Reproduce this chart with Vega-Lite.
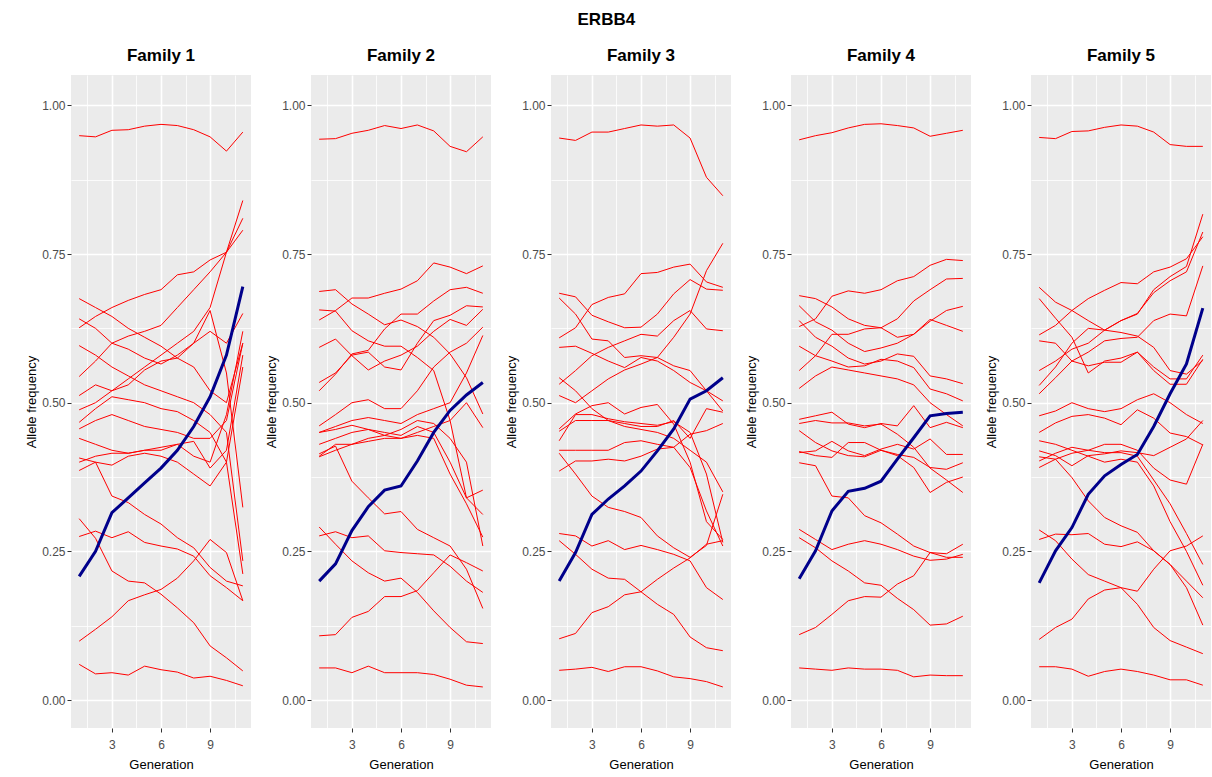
{
"$schema":"https://vega.github.io/schema/vega-lite/v6.json",
"background":"white",
"padding":{"left":25,"top":11,"right":0,"bottom":0},
"title":{"text":"ERBB4","fontSize":17,"anchor":"middle","frame":"bounds","offset":18,"dx":-12},
"spacing":60,
"bounds":"flush",
"datasets":{
"f1":[
{"s":0,"g":1,"v":0.208},{"s":0,"g":2,"v":0.25},{"s":0,"g":3,"v":0.315},{"s":0,"g":4,"v":0.34},{"s":0,"g":5,"v":0.365},{"s":0,"g":6,"v":0.39},{"s":0,"g":7,"v":0.42},{"s":0,"g":8,"v":0.46},{"s":0,"g":9,"v":0.51},{"s":0,"g":10,"v":0.58},{"s":0,"g":11,"v":0.695},
{"s":1,"g":1,"v":0.949},{"s":1,"g":2,"v":0.947},{"s":1,"g":3,"v":0.958},{"s":1,"g":4,"v":0.959},{"s":1,"g":5,"v":0.965},{"s":1,"g":6,"v":0.968},{"s":1,"g":7,"v":0.966},{"s":1,"g":8,"v":0.959},{"s":1,"g":9,"v":0.947},{"s":1,"g":10,"v":0.923},{"s":1,"g":11,"v":0.955},
{"s":2,"g":1,"v":0.626},{"s":2,"g":2,"v":0.645},{"s":2,"g":3,"v":0.66},{"s":2,"g":4,"v":0.672},{"s":2,"g":5,"v":0.682},{"s":2,"g":6,"v":0.69},{"s":2,"g":7,"v":0.715},{"s":2,"g":8,"v":0.72},{"s":2,"g":9,"v":0.74},{"s":2,"g":10,"v":0.753},{"s":2,"g":11,"v":0.84},
{"s":3,"g":1,"v":0.544},{"s":3,"g":2,"v":0.57},{"s":3,"g":3,"v":0.6},{"s":3,"g":4,"v":0.612},{"s":3,"g":5,"v":0.62},{"s":3,"g":6,"v":0.63},{"s":3,"g":7,"v":0.66},{"s":3,"g":8,"v":0.69},{"s":3,"g":9,"v":0.72},{"s":3,"g":10,"v":0.753},{"s":3,"g":11,"v":0.81},
{"s":4,"g":1,"v":0.488},{"s":4,"g":2,"v":0.5},{"s":4,"g":3,"v":0.52},{"s":4,"g":4,"v":0.54},{"s":4,"g":5,"v":0.56},{"s":4,"g":6,"v":0.58},{"s":4,"g":7,"v":0.6},{"s":4,"g":8,"v":0.62},{"s":4,"g":9,"v":0.66},{"s":4,"g":10,"v":0.753},{"s":4,"g":11,"v":0.79},
{"s":5,"g":1,"v":0.675},{"s":5,"g":2,"v":0.66},{"s":5,"g":3,"v":0.645},{"s":5,"g":4,"v":0.625},{"s":5,"g":5,"v":0.61},{"s":5,"g":6,"v":0.595},{"s":5,"g":7,"v":0.575},{"s":5,"g":8,"v":0.56},{"s":5,"g":9,"v":0.52},{"s":5,"g":10,"v":0.5},{"s":5,"g":11,"v":0.6},
{"s":6,"g":1,"v":0.641},{"s":6,"g":2,"v":0.625},{"s":6,"g":3,"v":0.6},{"s":6,"g":4,"v":0.59},{"s":6,"g":5,"v":0.575},{"s":6,"g":6,"v":0.565},{"s":6,"g":7,"v":0.58},{"s":6,"g":8,"v":0.6},{"s":6,"g":9,"v":0.655},{"s":6,"g":10,"v":0.55},{"s":6,"g":11,"v":0.324},
{"s":7,"g":1,"v":0.596},{"s":7,"g":2,"v":0.58},{"s":7,"g":3,"v":0.56},{"s":7,"g":4,"v":0.545},{"s":7,"g":5,"v":0.53},{"s":7,"g":6,"v":0.52},{"s":7,"g":7,"v":0.51},{"s":7,"g":8,"v":0.5},{"s":7,"g":9,"v":0.48},{"s":7,"g":10,"v":0.45},{"s":7,"g":11,"v":0.234},
{"s":8,"g":1,"v":0.512},{"s":8,"g":2,"v":0.53},{"s":8,"g":3,"v":0.52},{"s":8,"g":4,"v":0.53},{"s":8,"g":5,"v":0.555},{"s":8,"g":6,"v":0.57},{"s":8,"g":7,"v":0.575},{"s":8,"g":8,"v":0.6},{"s":8,"g":9,"v":0.62},{"s":8,"g":10,"v":0.6},{"s":8,"g":11,"v":0.65},
{"s":9,"g":1,"v":0.467},{"s":9,"g":2,"v":0.49},{"s":9,"g":3,"v":0.51},{"s":9,"g":4,"v":0.505},{"s":9,"g":5,"v":0.5},{"s":9,"g":6,"v":0.49},{"s":9,"g":7,"v":0.485},{"s":9,"g":8,"v":0.47},{"s":9,"g":9,"v":0.45},{"s":9,"g":10,"v":0.4},{"s":9,"g":11,"v":0.212},
{"s":10,"g":1,"v":0.456},{"s":10,"g":2,"v":0.47},{"s":10,"g":3,"v":0.48},{"s":10,"g":4,"v":0.47},{"s":10,"g":5,"v":0.46},{"s":10,"g":6,"v":0.455},{"s":10,"g":7,"v":0.45},{"s":10,"g":8,"v":0.44},{"s":10,"g":9,"v":0.44},{"s":10,"g":10,"v":0.47},{"s":10,"g":11,"v":0.6},
{"s":11,"g":1,"v":0.44},{"s":11,"g":2,"v":0.43},{"s":11,"g":3,"v":0.42},{"s":11,"g":4,"v":0.415},{"s":11,"g":5,"v":0.42},{"s":11,"g":6,"v":0.425},{"s":11,"g":7,"v":0.43},{"s":11,"g":8,"v":0.435},{"s":11,"g":9,"v":0.39},{"s":11,"g":10,"v":0.42},{"s":11,"g":11,"v":0.58},
{"s":12,"g":1,"v":0.407},{"s":12,"g":2,"v":0.4},{"s":12,"g":3,"v":0.343},{"s":12,"g":4,"v":0.332},{"s":12,"g":5,"v":0.312},{"s":12,"g":6,"v":0.296},{"s":12,"g":7,"v":0.273},{"s":12,"g":8,"v":0.256},{"s":12,"g":9,"v":0.223},{"s":12,"g":10,"v":0.2},{"s":12,"g":11,"v":0.192},
{"s":13,"g":1,"v":0.386},{"s":13,"g":2,"v":0.4},{"s":13,"g":3,"v":0.395},{"s":13,"g":4,"v":0.41},{"s":13,"g":5,"v":0.415},{"s":13,"g":6,"v":0.41},{"s":13,"g":7,"v":0.4},{"s":13,"g":8,"v":0.38},{"s":13,"g":9,"v":0.36},{"s":13,"g":10,"v":0.4},{"s":13,"g":11,"v":0.56},
{"s":14,"g":1,"v":0.4},{"s":14,"g":2,"v":0.41},{"s":14,"g":3,"v":0.415},{"s":14,"g":4,"v":0.415},{"s":14,"g":5,"v":0.42},{"s":14,"g":6,"v":0.42},{"s":14,"g":7,"v":0.43},{"s":14,"g":8,"v":0.41},{"s":14,"g":9,"v":0.4},{"s":14,"g":10,"v":0.48},{"s":14,"g":11,"v":0.62},
{"s":15,"g":1,"v":0.305},{"s":15,"g":2,"v":0.272},{"s":15,"g":3,"v":0.217},{"s":15,"g":4,"v":0.2},{"s":15,"g":5,"v":0.197},{"s":15,"g":6,"v":0.178},{"s":15,"g":7,"v":0.155},{"s":15,"g":8,"v":0.13},{"s":15,"g":9,"v":0.091},{"s":15,"g":10,"v":0.071},{"s":15,"g":11,"v":0.049},
{"s":16,"g":1,"v":0.275},{"s":16,"g":2,"v":0.284},{"s":16,"g":3,"v":0.273},{"s":16,"g":4,"v":0.283},{"s":16,"g":5,"v":0.265},{"s":16,"g":6,"v":0.259},{"s":16,"g":7,"v":0.254},{"s":16,"g":8,"v":0.242},{"s":16,"g":9,"v":0.209},{"s":16,"g":10,"v":0.189},{"s":16,"g":11,"v":0.167},
{"s":17,"g":1,"v":0.099},{"s":17,"g":2,"v":0.119},{"s":17,"g":3,"v":0.14},{"s":17,"g":4,"v":0.167},{"s":17,"g":5,"v":0.177},{"s":17,"g":6,"v":0.186},{"s":17,"g":7,"v":0.205},{"s":17,"g":8,"v":0.234},{"s":17,"g":9,"v":0.27},{"s":17,"g":10,"v":0.248},{"s":17,"g":11,"v":0.167},
{"s":18,"g":1,"v":0.06},{"s":18,"g":2,"v":0.044},{"s":18,"g":3,"v":0.046},{"s":18,"g":4,"v":0.042},{"s":18,"g":5,"v":0.057},{"s":18,"g":6,"v":0.051},{"s":18,"g":7,"v":0.047},{"s":18,"g":8,"v":0.037},{"s":18,"g":9,"v":0.04},{"s":18,"g":10,"v":0.033},{"s":18,"g":11,"v":0.024}
],
"f2":[
{"s":0,"g":1,"v":0.2},{"s":0,"g":2,"v":0.229},{"s":0,"g":3,"v":0.285},{"s":0,"g":4,"v":0.325},{"s":0,"g":5,"v":0.353},{"s":0,"g":6,"v":0.36},{"s":0,"g":7,"v":0.402},{"s":0,"g":8,"v":0.45},{"s":0,"g":9,"v":0.487},{"s":0,"g":10,"v":0.513},{"s":0,"g":11,"v":0.534},
{"s":1,"g":1,"v":0.943},{"s":1,"g":2,"v":0.944},{"s":1,"g":3,"v":0.953},{"s":1,"g":4,"v":0.958},{"s":1,"g":5,"v":0.966},{"s":1,"g":6,"v":0.961},{"s":1,"g":7,"v":0.967},{"s":1,"g":8,"v":0.957},{"s":1,"g":9,"v":0.931},{"s":1,"g":10,"v":0.922},{"s":1,"g":11,"v":0.947},
{"s":2,"g":1,"v":0.639},{"s":2,"g":2,"v":0.655},{"s":2,"g":3,"v":0.676},{"s":2,"g":4,"v":0.676},{"s":2,"g":5,"v":0.684},{"s":2,"g":6,"v":0.691},{"s":2,"g":7,"v":0.705},{"s":2,"g":8,"v":0.735},{"s":2,"g":9,"v":0.728},{"s":2,"g":10,"v":0.717},{"s":2,"g":11,"v":0.73},
{"s":3,"g":1,"v":0.687},{"s":3,"g":2,"v":0.69},{"s":3,"g":3,"v":0.666},{"s":3,"g":4,"v":0.649},{"s":3,"g":5,"v":0.631},{"s":3,"g":6,"v":0.639},{"s":3,"g":7,"v":0.628},{"s":3,"g":8,"v":0.61},{"s":3,"g":9,"v":0.582},{"s":3,"g":10,"v":0.542},{"s":3,"g":11,"v":0.481},
{"s":4,"g":1,"v":0.656},{"s":4,"g":2,"v":0.654},{"s":4,"g":3,"v":0.621},{"s":4,"g":4,"v":0.604},{"s":4,"g":5,"v":0.595},{"s":4,"g":6,"v":0.595},{"s":4,"g":7,"v":0.576},{"s":4,"g":8,"v":0.554},{"s":4,"g":9,"v":0.47},{"s":4,"g":10,"v":0.34},{"s":4,"g":11,"v":0.353},
{"s":5,"g":1,"v":0.52},{"s":5,"g":2,"v":0.548},{"s":5,"g":3,"v":0.582},{"s":5,"g":4,"v":0.588},{"s":5,"g":5,"v":0.624},{"s":5,"g":6,"v":0.649},{"s":5,"g":7,"v":0.649},{"s":5,"g":8,"v":0.671},{"s":5,"g":9,"v":0.69},{"s":5,"g":10,"v":0.694},{"s":5,"g":11,"v":0.684},
{"s":6,"g":1,"v":0.534},{"s":6,"g":2,"v":0.55},{"s":6,"g":3,"v":0.58},{"s":6,"g":4,"v":0.585},{"s":6,"g":5,"v":0.56},{"s":6,"g":6,"v":0.555},{"s":6,"g":7,"v":0.6},{"s":6,"g":8,"v":0.638},{"s":6,"g":9,"v":0.647},{"s":6,"g":10,"v":0.663},{"s":6,"g":11,"v":0.661},
{"s":7,"g":1,"v":0.593},{"s":7,"g":2,"v":0.607},{"s":7,"g":3,"v":0.579},{"s":7,"g":4,"v":0.555},{"s":7,"g":5,"v":0.57},{"s":7,"g":6,"v":0.58},{"s":7,"g":7,"v":0.595},{"s":7,"g":8,"v":0.62},{"s":7,"g":9,"v":0.64},{"s":7,"g":10,"v":0.63},{"s":7,"g":11,"v":0.657},
{"s":8,"g":1,"v":0.461},{"s":8,"g":2,"v":0.48},{"s":8,"g":3,"v":0.5},{"s":8,"g":4,"v":0.505},{"s":8,"g":5,"v":0.49},{"s":8,"g":6,"v":0.49},{"s":8,"g":7,"v":0.52},{"s":8,"g":8,"v":0.56},{"s":8,"g":9,"v":0.585},{"s":8,"g":10,"v":0.6},{"s":8,"g":11,"v":0.627},
{"s":9,"g":1,"v":0.45},{"s":9,"g":2,"v":0.46},{"s":9,"g":3,"v":0.47},{"s":9,"g":4,"v":0.475},{"s":9,"g":5,"v":0.47},{"s":9,"g":6,"v":0.465},{"s":9,"g":7,"v":0.48},{"s":9,"g":8,"v":0.49},{"s":9,"g":9,"v":0.5},{"s":9,"g":10,"v":0.55},{"s":9,"g":11,"v":0.613},
{"s":10,"g":1,"v":0.43},{"s":10,"g":2,"v":0.44},{"s":10,"g":3,"v":0.45},{"s":10,"g":4,"v":0.455},{"s":10,"g":5,"v":0.45},{"s":10,"g":6,"v":0.445},{"s":10,"g":7,"v":0.46},{"s":10,"g":8,"v":0.45},{"s":10,"g":9,"v":0.4},{"s":10,"g":10,"v":0.34},{"s":10,"g":11,"v":0.312},
{"s":11,"g":1,"v":0.409},{"s":11,"g":2,"v":0.42},{"s":11,"g":3,"v":0.43},{"s":11,"g":4,"v":0.435},{"s":11,"g":5,"v":0.44},{"s":11,"g":6,"v":0.44},{"s":11,"g":7,"v":0.445},{"s":11,"g":8,"v":0.44},{"s":11,"g":9,"v":0.38},{"s":11,"g":10,"v":0.33},{"s":11,"g":11,"v":0.274},
{"s":12,"g":1,"v":0.45},{"s":12,"g":2,"v":0.455},{"s":12,"g":3,"v":0.462},{"s":12,"g":4,"v":0.455},{"s":12,"g":5,"v":0.445},{"s":12,"g":6,"v":0.455},{"s":12,"g":7,"v":0.47},{"s":12,"g":8,"v":0.465},{"s":12,"g":9,"v":0.44},{"s":12,"g":10,"v":0.4},{"s":12,"g":11,"v":0.259},
{"s":13,"g":1,"v":0.41},{"s":13,"g":2,"v":0.43},{"s":13,"g":3,"v":0.43},{"s":13,"g":4,"v":0.44},{"s":13,"g":5,"v":0.445},{"s":13,"g":6,"v":0.44},{"s":13,"g":7,"v":0.45},{"s":13,"g":8,"v":0.46},{"s":13,"g":9,"v":0.47},{"s":13,"g":10,"v":0.5},{"s":13,"g":11,"v":0.458},
{"s":14,"g":1,"v":0.414},{"s":14,"g":2,"v":0.427},{"s":14,"g":3,"v":0.368},{"s":14,"g":4,"v":0.34},{"s":14,"g":5,"v":0.313},{"s":14,"g":6,"v":0.317},{"s":14,"g":7,"v":0.287},{"s":14,"g":8,"v":0.273},{"s":14,"g":9,"v":0.259},{"s":14,"g":10,"v":0.22},{"s":14,"g":11,"v":0.154},
{"s":15,"g":1,"v":0.291},{"s":15,"g":2,"v":0.262},{"s":15,"g":3,"v":0.234},{"s":15,"g":4,"v":0.214},{"s":15,"g":5,"v":0.2},{"s":15,"g":6,"v":0.205},{"s":15,"g":7,"v":0.181},{"s":15,"g":8,"v":0.15},{"s":15,"g":9,"v":0.122},{"s":15,"g":10,"v":0.098},{"s":15,"g":11,"v":0.095},
{"s":16,"g":1,"v":0.276},{"s":16,"g":2,"v":0.283},{"s":16,"g":3,"v":0.273},{"s":16,"g":4,"v":0.276},{"s":16,"g":5,"v":0.251},{"s":16,"g":6,"v":0.248},{"s":16,"g":7,"v":0.246},{"s":16,"g":8,"v":0.244},{"s":16,"g":9,"v":0.225},{"s":16,"g":10,"v":0.2},{"s":16,"g":11,"v":0.181},
{"s":17,"g":1,"v":0.108},{"s":17,"g":2,"v":0.11},{"s":17,"g":3,"v":0.139},{"s":17,"g":4,"v":0.149},{"s":17,"g":5,"v":0.174},{"s":17,"g":6,"v":0.174},{"s":17,"g":7,"v":0.184},{"s":17,"g":8,"v":0.214},{"s":17,"g":9,"v":0.244},{"s":17,"g":10,"v":0.231},{"s":17,"g":11,"v":0.217},
{"s":18,"g":1,"v":0.054},{"s":18,"g":2,"v":0.054},{"s":18,"g":3,"v":0.046},{"s":18,"g":4,"v":0.057},{"s":18,"g":5,"v":0.046},{"s":18,"g":6,"v":0.046},{"s":18,"g":7,"v":0.046},{"s":18,"g":8,"v":0.043},{"s":18,"g":9,"v":0.035},{"s":18,"g":10,"v":0.025},{"s":18,"g":11,"v":0.022}
],
"f3":[
{"s":0,"g":1,"v":0.2},{"s":0,"g":2,"v":0.248},{"s":0,"g":3,"v":0.312},{"s":0,"g":4,"v":0.338},{"s":0,"g":5,"v":0.36},{"s":0,"g":6,"v":0.385},{"s":0,"g":7,"v":0.419},{"s":0,"g":8,"v":0.456},{"s":0,"g":9,"v":0.506},{"s":0,"g":10,"v":0.52},{"s":0,"g":11,"v":0.542},
{"s":1,"g":1,"v":0.945},{"s":1,"g":2,"v":0.941},{"s":1,"g":3,"v":0.955},{"s":1,"g":4,"v":0.955},{"s":1,"g":5,"v":0.961},{"s":1,"g":6,"v":0.967},{"s":1,"g":7,"v":0.965},{"s":1,"g":8,"v":0.967},{"s":1,"g":9,"v":0.945},{"s":1,"g":10,"v":0.879},{"s":1,"g":11,"v":0.848},
{"s":2,"g":1,"v":0.609},{"s":2,"g":2,"v":0.626},{"s":2,"g":3,"v":0.665},{"s":2,"g":4,"v":0.677},{"s":2,"g":5,"v":0.683},{"s":2,"g":6,"v":0.717},{"s":2,"g":7,"v":0.719},{"s":2,"g":8,"v":0.728},{"s":2,"g":9,"v":0.733},{"s":2,"g":10,"v":0.703},{"s":2,"g":11,"v":0.694},
{"s":3,"g":1,"v":0.684},{"s":3,"g":2,"v":0.678},{"s":3,"g":3,"v":0.647},{"s":3,"g":4,"v":0.636},{"s":3,"g":5,"v":0.626},{"s":3,"g":6,"v":0.627},{"s":3,"g":7,"v":0.649},{"s":3,"g":8,"v":0.683},{"s":3,"g":9,"v":0.707},{"s":3,"g":10,"v":0.691},{"s":3,"g":11,"v":0.689},
{"s":4,"g":1,"v":0.676},{"s":4,"g":2,"v":0.649},{"s":4,"g":3,"v":0.607},{"s":4,"g":4,"v":0.604},{"s":4,"g":5,"v":0.576},{"s":4,"g":6,"v":0.579},{"s":4,"g":7,"v":0.576},{"s":4,"g":8,"v":0.562},{"s":4,"g":9,"v":0.554},{"s":4,"g":10,"v":0.52},{"s":4,"g":11,"v":0.486},
{"s":5,"g":1,"v":0.593},{"s":5,"g":2,"v":0.595},{"s":5,"g":3,"v":0.583},{"s":5,"g":4,"v":0.57},{"s":5,"g":5,"v":0.559},{"s":5,"g":6,"v":0.576},{"s":5,"g":7,"v":0.57},{"s":5,"g":8,"v":0.554},{"s":5,"g":9,"v":0.534},{"s":5,"g":10,"v":0.52},{"s":5,"g":11,"v":0.503},
{"s":6,"g":1,"v":0.531},{"s":6,"g":2,"v":0.554},{"s":6,"g":3,"v":0.579},{"s":6,"g":4,"v":0.593},{"s":6,"g":5,"v":0.604},{"s":6,"g":6,"v":0.615},{"s":6,"g":7,"v":0.612},{"s":6,"g":8,"v":0.638},{"s":6,"g":9,"v":0.655},{"s":6,"g":10,"v":0.624},{"s":6,"g":11,"v":0.621},
{"s":7,"g":1,"v":0.512},{"s":7,"g":2,"v":0.5},{"s":7,"g":3,"v":0.52},{"s":7,"g":4,"v":0.54},{"s":7,"g":5,"v":0.555},{"s":7,"g":6,"v":0.565},{"s":7,"g":7,"v":0.576},{"s":7,"g":8,"v":0.61},{"s":7,"g":9,"v":0.649},{"s":7,"g":10,"v":0.722},{"s":7,"g":11,"v":0.768},
{"s":8,"g":1,"v":0.542},{"s":8,"g":2,"v":0.52},{"s":8,"g":3,"v":0.49},{"s":8,"g":4,"v":0.47},{"s":8,"g":5,"v":0.46},{"s":8,"g":6,"v":0.455},{"s":8,"g":7,"v":0.45},{"s":8,"g":8,"v":0.44},{"s":8,"g":9,"v":0.42},{"s":8,"g":10,"v":0.4},{"s":8,"g":11,"v":0.35},
{"s":9,"g":1,"v":0.456},{"s":9,"g":2,"v":0.481},{"s":9,"g":3,"v":0.495},{"s":9,"g":4,"v":0.5},{"s":9,"g":5,"v":0.481},{"s":9,"g":6,"v":0.492},{"s":9,"g":7,"v":0.497},{"s":9,"g":8,"v":0.464},{"s":9,"g":9,"v":0.4},{"s":9,"g":10,"v":0.3},{"s":9,"g":11,"v":0.27},
{"s":10,"g":1,"v":0.436},{"s":10,"g":2,"v":0.48},{"s":10,"g":3,"v":0.48},{"s":10,"g":4,"v":0.473},{"s":10,"g":5,"v":0.468},{"s":10,"g":6,"v":0.465},{"s":10,"g":7,"v":0.462},{"s":10,"g":8,"v":0.468},{"s":10,"g":9,"v":0.45},{"s":10,"g":10,"v":0.38},{"s":10,"g":11,"v":0.265},
{"s":11,"g":1,"v":0.42},{"s":11,"g":2,"v":0.42},{"s":11,"g":3,"v":0.42},{"s":11,"g":4,"v":0.42},{"s":11,"g":5,"v":0.433},{"s":11,"g":6,"v":0.436},{"s":11,"g":7,"v":0.43},{"s":11,"g":8,"v":0.425},{"s":11,"g":9,"v":0.391},{"s":11,"g":10,"v":0.318},{"s":11,"g":11,"v":0.259},
{"s":12,"g":1,"v":0.385},{"s":12,"g":2,"v":0.402},{"s":12,"g":3,"v":0.402},{"s":12,"g":4,"v":0.405},{"s":12,"g":5,"v":0.402},{"s":12,"g":6,"v":0.41},{"s":12,"g":7,"v":0.422},{"s":12,"g":8,"v":0.425},{"s":12,"g":9,"v":0.447},{"s":12,"g":10,"v":0.453},{"s":12,"g":11,"v":0.465},
{"s":13,"g":1,"v":0.415},{"s":13,"g":2,"v":0.38},{"s":13,"g":3,"v":0.343},{"s":13,"g":4,"v":0.324},{"s":13,"g":5,"v":0.317},{"s":13,"g":6,"v":0.307},{"s":13,"g":7,"v":0.276},{"s":13,"g":8,"v":0.256},{"s":13,"g":9,"v":0.24},{"s":13,"g":10,"v":0.26},{"s":13,"g":11,"v":0.346},
{"s":14,"g":1,"v":0.28},{"s":14,"g":2,"v":0.276},{"s":14,"g":3,"v":0.259},{"s":14,"g":4,"v":0.268},{"s":14,"g":5,"v":0.253},{"s":14,"g":6,"v":0.26},{"s":14,"g":7,"v":0.253},{"s":14,"g":8,"v":0.245},{"s":14,"g":9,"v":0.234},{"s":14,"g":10,"v":0.189},{"s":14,"g":11,"v":0.169},
{"s":15,"g":1,"v":0.268},{"s":15,"g":2,"v":0.245},{"s":15,"g":3,"v":0.22},{"s":15,"g":4,"v":0.205},{"s":15,"g":5,"v":0.203},{"s":15,"g":6,"v":0.182},{"s":15,"g":7,"v":0.161},{"s":15,"g":8,"v":0.144},{"s":15,"g":9,"v":0.106},{"s":15,"g":10,"v":0.088},{"s":15,"g":11,"v":0.083},
{"s":16,"g":1,"v":0.103},{"s":16,"g":2,"v":0.112},{"s":16,"g":3,"v":0.147},{"s":16,"g":4,"v":0.157},{"s":16,"g":5,"v":0.177},{"s":16,"g":6,"v":0.182},{"s":16,"g":7,"v":0.203},{"s":16,"g":8,"v":0.222},{"s":16,"g":9,"v":0.239},{"s":16,"g":10,"v":0.262},{"s":16,"g":11,"v":0.268},
{"s":17,"g":1,"v":0.05},{"s":17,"g":2,"v":0.052},{"s":17,"g":3,"v":0.055},{"s":17,"g":4,"v":0.048},{"s":17,"g":5,"v":0.056},{"s":17,"g":6,"v":0.056},{"s":17,"g":7,"v":0.049},{"s":17,"g":8,"v":0.039},{"s":17,"g":9,"v":0.036},{"s":17,"g":10,"v":0.031},{"s":17,"g":11,"v":0.022},
{"s":18,"g":1,"v":0.452},{"s":18,"g":2,"v":0.47},{"s":18,"g":3,"v":0.47},{"s":18,"g":4,"v":0.47},{"s":18,"g":5,"v":0.465},{"s":18,"g":6,"v":0.46},{"s":18,"g":7,"v":0.46},{"s":18,"g":8,"v":0.47},{"s":18,"g":9,"v":0.44},{"s":18,"g":10,"v":0.49},{"s":18,"g":11,"v":0.484}
],
"f4":[
{"s":0,"g":1,"v":0.204},{"s":0,"g":2,"v":0.251},{"s":0,"g":3,"v":0.318},{"s":0,"g":4,"v":0.351},{"s":0,"g":5,"v":0.356},{"s":0,"g":6,"v":0.368},{"s":0,"g":7,"v":0.405},{"s":0,"g":8,"v":0.441},{"s":0,"g":9,"v":0.478},{"s":0,"g":10,"v":0.482},{"s":0,"g":11,"v":0.484},
{"s":1,"g":1,"v":0.942},{"s":1,"g":2,"v":0.949},{"s":1,"g":3,"v":0.954},{"s":1,"g":4,"v":0.962},{"s":1,"g":5,"v":0.968},{"s":1,"g":6,"v":0.969},{"s":1,"g":7,"v":0.966},{"s":1,"g":8,"v":0.962},{"s":1,"g":9,"v":0.948},{"s":1,"g":10,"v":0.953},{"s":1,"g":11,"v":0.958},
{"s":2,"g":1,"v":0.628},{"s":2,"g":2,"v":0.641},{"s":2,"g":3,"v":0.679},{"s":2,"g":4,"v":0.688},{"s":2,"g":5,"v":0.684},{"s":2,"g":6,"v":0.69},{"s":2,"g":7,"v":0.705},{"s":2,"g":8,"v":0.712},{"s":2,"g":9,"v":0.731},{"s":2,"g":10,"v":0.741},{"s":2,"g":11,"v":0.739},
{"s":3,"g":1,"v":0.68},{"s":3,"g":2,"v":0.675},{"s":3,"g":3,"v":0.661},{"s":3,"g":4,"v":0.641},{"s":3,"g":5,"v":0.63},{"s":3,"g":6,"v":0.626},{"s":3,"g":7,"v":0.641},{"s":3,"g":8,"v":0.671},{"s":3,"g":9,"v":0.69},{"s":3,"g":10,"v":0.708},{"s":3,"g":11,"v":0.709},
{"s":4,"g":1,"v":0.554},{"s":4,"g":2,"v":0.579},{"s":4,"g":3,"v":0.615},{"s":4,"g":4,"v":0.615},{"s":4,"g":5,"v":0.624},{"s":4,"g":6,"v":0.626},{"s":4,"g":7,"v":0.61},{"s":4,"g":8,"v":0.615},{"s":4,"g":9,"v":0.637},{"s":4,"g":10,"v":0.655},{"s":4,"g":11,"v":0.662},
{"s":5,"g":1,"v":0.663},{"s":5,"g":2,"v":0.636},{"s":5,"g":3,"v":0.622},{"s":5,"g":4,"v":0.6},{"s":5,"g":5,"v":0.586},{"s":5,"g":6,"v":0.592},{"s":5,"g":7,"v":0.6},{"s":5,"g":8,"v":0.615},{"s":5,"g":9,"v":0.64},{"s":5,"g":10,"v":0.63},{"s":5,"g":11,"v":0.62},
{"s":6,"g":1,"v":0.595},{"s":6,"g":2,"v":0.579},{"s":6,"g":3,"v":0.57},{"s":6,"g":4,"v":0.56},{"s":6,"g":5,"v":0.562},{"s":6,"g":6,"v":0.573},{"s":6,"g":7,"v":0.57},{"s":6,"g":8,"v":0.559},{"s":6,"g":9,"v":0.523},{"s":6,"g":10,"v":0.515},{"s":6,"g":11,"v":0.503},
{"s":7,"g":1,"v":0.638},{"s":7,"g":2,"v":0.61},{"s":7,"g":3,"v":0.595},{"s":7,"g":4,"v":0.575},{"s":7,"g":5,"v":0.565},{"s":7,"g":6,"v":0.57},{"s":7,"g":7,"v":0.582},{"s":7,"g":8,"v":0.578},{"s":7,"g":9,"v":0.545},{"s":7,"g":10,"v":0.54},{"s":7,"g":11,"v":0.532},
{"s":8,"g":1,"v":0.472},{"s":8,"g":2,"v":0.478},{"s":8,"g":3,"v":0.484},{"s":8,"g":4,"v":0.464},{"s":8,"g":5,"v":0.458},{"s":8,"g":6,"v":0.465},{"s":8,"g":7,"v":0.461},{"s":8,"g":8,"v":0.495},{"s":8,"g":9,"v":0.458},{"s":8,"g":10,"v":0.467},{"s":8,"g":11,"v":0.458},
{"s":9,"g":1,"v":0.465},{"s":9,"g":2,"v":0.47},{"s":9,"g":3,"v":0.466},{"s":9,"g":4,"v":0.466},{"s":9,"g":5,"v":0.461},{"s":9,"g":6,"v":0.464},{"s":9,"g":7,"v":0.447},{"s":9,"g":8,"v":0.425},{"s":9,"g":9,"v":0.39},{"s":9,"g":10,"v":0.37},{"s":9,"g":11,"v":0.349},
{"s":10,"g":1,"v":0.453},{"s":10,"g":2,"v":0.433},{"s":10,"g":3,"v":0.419},{"s":10,"g":4,"v":0.411},{"s":10,"g":5,"v":0.409},{"s":10,"g":6,"v":0.42},{"s":10,"g":7,"v":0.411},{"s":10,"g":8,"v":0.391},{"s":10,"g":9,"v":0.349},{"s":10,"g":10,"v":0.366},{"s":10,"g":11,"v":0.375},
{"s":11,"g":1,"v":0.418},{"s":11,"g":2,"v":0.411},{"s":11,"g":3,"v":0.408},{"s":11,"g":4,"v":0.433},{"s":11,"g":5,"v":0.433},{"s":11,"g":6,"v":0.42},{"s":11,"g":7,"v":0.413},{"s":11,"g":8,"v":0.408},{"s":11,"g":9,"v":0.391},{"s":11,"g":10,"v":0.388},{"s":11,"g":11,"v":0.399},
{"s":12,"g":1,"v":0.416},{"s":12,"g":2,"v":0.419},{"s":12,"g":3,"v":0.435},{"s":12,"g":4,"v":0.419},{"s":12,"g":5,"v":0.411},{"s":12,"g":6,"v":0.422},{"s":12,"g":7,"v":0.43},{"s":12,"g":8,"v":0.422},{"s":12,"g":9,"v":0.439},{"s":12,"g":10,"v":0.413},{"s":12,"g":11,"v":0.413},
{"s":13,"g":1,"v":0.399},{"s":13,"g":2,"v":0.394},{"s":13,"g":3,"v":0.343},{"s":13,"g":4,"v":0.34},{"s":13,"g":5,"v":0.31},{"s":13,"g":6,"v":0.298},{"s":13,"g":7,"v":0.279},{"s":13,"g":8,"v":0.259},{"s":13,"g":9,"v":0.248},{"s":13,"g":10,"v":0.24},{"s":13,"g":11,"v":0.24},
{"s":14,"g":1,"v":0.287},{"s":14,"g":2,"v":0.27},{"s":14,"g":3,"v":0.253},{"s":14,"g":4,"v":0.262},{"s":14,"g":5,"v":0.268},{"s":14,"g":6,"v":0.262},{"s":14,"g":7,"v":0.253},{"s":14,"g":8,"v":0.242},{"s":14,"g":9,"v":0.235},{"s":14,"g":10,"v":0.237},{"s":14,"g":11,"v":0.245},
{"s":15,"g":1,"v":0.273},{"s":15,"g":2,"v":0.256},{"s":15,"g":3,"v":0.234},{"s":15,"g":4,"v":0.217},{"s":15,"g":5,"v":0.197},{"s":15,"g":6,"v":0.193},{"s":15,"g":7,"v":0.171},{"s":15,"g":8,"v":0.152},{"s":15,"g":9,"v":0.126},{"s":15,"g":10,"v":0.128},{"s":15,"g":11,"v":0.141},
{"s":16,"g":1,"v":0.11},{"s":16,"g":2,"v":0.122},{"s":16,"g":3,"v":0.144},{"s":16,"g":4,"v":0.167},{"s":16,"g":5,"v":0.174},{"s":16,"g":6,"v":0.173},{"s":16,"g":7,"v":0.195},{"s":16,"g":8,"v":0.209},{"s":16,"g":9,"v":0.248},{"s":16,"g":10,"v":0.246},{"s":16,"g":11,"v":0.262},
{"s":17,"g":1,"v":0.054},{"s":17,"g":2,"v":0.052},{"s":17,"g":3,"v":0.05},{"s":17,"g":4,"v":0.054},{"s":17,"g":5,"v":0.052},{"s":17,"g":6,"v":0.052},{"s":17,"g":7,"v":0.05},{"s":17,"g":8,"v":0.039},{"s":17,"g":9,"v":0.042},{"s":17,"g":10,"v":0.041},{"s":17,"g":11,"v":0.041},
{"s":18,"g":1,"v":0.524},{"s":18,"g":2,"v":0.545},{"s":18,"g":3,"v":0.56},{"s":18,"g":4,"v":0.555},{"s":18,"g":5,"v":0.55},{"s":18,"g":6,"v":0.545},{"s":18,"g":7,"v":0.54},{"s":18,"g":8,"v":0.53},{"s":18,"g":9,"v":0.5},{"s":18,"g":10,"v":0.48},{"s":18,"g":11,"v":0.461}
],
"f5":[
{"s":0,"g":1,"v":0.197},{"s":0,"g":2,"v":0.251},{"s":0,"g":3,"v":0.29},{"s":0,"g":4,"v":0.346},{"s":0,"g":5,"v":0.377},{"s":0,"g":6,"v":0.396},{"s":0,"g":7,"v":0.413},{"s":0,"g":8,"v":0.46},{"s":0,"g":9,"v":0.515},{"s":0,"g":10,"v":0.565},{"s":0,"g":11,"v":0.659},
{"s":1,"g":1,"v":0.946},{"s":1,"g":2,"v":0.944},{"s":1,"g":3,"v":0.956},{"s":1,"g":4,"v":0.957},{"s":1,"g":5,"v":0.963},{"s":1,"g":6,"v":0.967},{"s":1,"g":7,"v":0.965},{"s":1,"g":8,"v":0.955},{"s":1,"g":9,"v":0.934},{"s":1,"g":10,"v":0.931},{"s":1,"g":11,"v":0.931},
{"s":2,"g":1,"v":0.614},{"s":2,"g":2,"v":0.63},{"s":2,"g":3,"v":0.655},{"s":2,"g":4,"v":0.675},{"s":2,"g":5,"v":0.689},{"s":2,"g":6,"v":0.702},{"s":2,"g":7,"v":0.7},{"s":2,"g":8,"v":0.72},{"s":2,"g":9,"v":0.728},{"s":2,"g":10,"v":0.742},{"s":2,"g":11,"v":0.779},
{"s":3,"g":1,"v":0.529},{"s":3,"g":2,"v":0.56},{"s":3,"g":3,"v":0.6},{"s":3,"g":4,"v":0.625},{"s":3,"g":5,"v":0.622},{"s":3,"g":6,"v":0.638},{"s":3,"g":7,"v":0.65},{"s":3,"g":8,"v":0.685},{"s":3,"g":9,"v":0.705},{"s":3,"g":10,"v":0.72},{"s":3,"g":11,"v":0.787},
{"s":4,"g":1,"v":0.515},{"s":4,"g":2,"v":0.542},{"s":4,"g":3,"v":0.57},{"s":4,"g":4,"v":0.585},{"s":4,"g":5,"v":0.604},{"s":4,"g":6,"v":0.608},{"s":4,"g":7,"v":0.61},{"s":4,"g":8,"v":0.638},{"s":4,"g":9,"v":0.649},{"s":4,"g":10,"v":0.646},{"s":4,"g":11,"v":0.73},
{"s":5,"g":1,"v":0.554},{"s":5,"g":2,"v":0.57},{"s":5,"g":3,"v":0.59},{"s":5,"g":4,"v":0.6},{"s":5,"g":5,"v":0.622},{"s":5,"g":6,"v":0.638},{"s":5,"g":7,"v":0.649},{"s":5,"g":8,"v":0.69},{"s":5,"g":9,"v":0.712},{"s":5,"g":10,"v":0.729},{"s":5,"g":11,"v":0.817},
{"s":6,"g":1,"v":0.694},{"s":6,"g":2,"v":0.669},{"s":6,"g":3,"v":0.655},{"s":6,"g":4,"v":0.638},{"s":6,"g":5,"v":0.622},{"s":6,"g":6,"v":0.618},{"s":6,"g":7,"v":0.612},{"s":6,"g":8,"v":0.593},{"s":6,"g":9,"v":0.554},{"s":6,"g":10,"v":0.548},{"s":6,"g":11,"v":0.571},
{"s":7,"g":1,"v":0.675},{"s":7,"g":2,"v":0.642},{"s":7,"g":3,"v":0.61},{"s":7,"g":4,"v":0.55},{"s":7,"g":5,"v":0.57},{"s":7,"g":6,"v":0.575},{"s":7,"g":7,"v":0.585},{"s":7,"g":8,"v":0.554},{"s":7,"g":9,"v":0.531},{"s":7,"g":10,"v":0.531},{"s":7,"g":11,"v":0.573},
{"s":8,"g":1,"v":0.604},{"s":8,"g":2,"v":0.6},{"s":8,"g":3,"v":0.57},{"s":8,"g":4,"v":0.562},{"s":8,"g":5,"v":0.568},{"s":8,"g":6,"v":0.568},{"s":8,"g":7,"v":0.585},{"s":8,"g":8,"v":0.56},{"s":8,"g":9,"v":0.54},{"s":8,"g":10,"v":0.54},{"s":8,"g":11,"v":0.58},
{"s":9,"g":1,"v":0.478},{"s":9,"g":2,"v":0.486},{"s":9,"g":3,"v":0.5},{"s":9,"g":4,"v":0.49},{"s":9,"g":5,"v":0.485},{"s":9,"g":6,"v":0.49},{"s":9,"g":7,"v":0.505},{"s":9,"g":8,"v":0.515},{"s":9,"g":9,"v":0.5},{"s":9,"g":10,"v":0.48},{"s":9,"g":11,"v":0.465},
{"s":10,"g":1,"v":0.45},{"s":10,"g":2,"v":0.466},{"s":10,"g":3,"v":0.477},{"s":10,"g":4,"v":0.48},{"s":10,"g":5,"v":0.474},{"s":10,"g":6,"v":0.463},{"s":10,"g":7,"v":0.488},{"s":10,"g":8,"v":0.474},{"s":10,"g":9,"v":0.449},{"s":10,"g":10,"v":0.443},{"s":10,"g":11,"v":0.429},
{"s":11,"g":1,"v":0.419},{"s":11,"g":2,"v":0.411},{"s":11,"g":3,"v":0.394},{"s":11,"g":4,"v":0.411},{"s":11,"g":5,"v":0.414},{"s":11,"g":6,"v":0.419},{"s":11,"g":7,"v":0.416},{"s":11,"g":8,"v":0.411},{"s":11,"g":9,"v":0.425},{"s":11,"g":10,"v":0.439},{"s":11,"g":11,"v":0.47},
{"s":12,"g":1,"v":0.402},{"s":12,"g":2,"v":0.415},{"s":12,"g":3,"v":0.425},{"s":12,"g":4,"v":0.42},{"s":12,"g":5,"v":0.43},{"s":12,"g":6,"v":0.43},{"s":12,"g":7,"v":0.42},{"s":12,"g":8,"v":0.39},{"s":12,"g":9,"v":0.37},{"s":12,"g":10,"v":0.363},{"s":12,"g":11,"v":0.43},
{"s":13,"g":1,"v":0.391},{"s":13,"g":2,"v":0.405},{"s":13,"g":3,"v":0.415},{"s":13,"g":4,"v":0.42},{"s":13,"g":5,"v":0.416},{"s":13,"g":6,"v":0.416},{"s":13,"g":7,"v":0.41},{"s":13,"g":8,"v":0.37},{"s":13,"g":9,"v":0.33},{"s":13,"g":10,"v":0.28},{"s":13,"g":11,"v":0.228},
{"s":14,"g":1,"v":0.436},{"s":14,"g":2,"v":0.43},{"s":14,"g":3,"v":0.42},{"s":14,"g":4,"v":0.41},{"s":14,"g":5,"v":0.4},{"s":14,"g":6,"v":0.405},{"s":14,"g":7,"v":0.4},{"s":14,"g":8,"v":0.36},{"s":14,"g":9,"v":0.3},{"s":14,"g":10,"v":0.25},{"s":14,"g":11,"v":0.193},
{"s":15,"g":1,"v":0.409},{"s":15,"g":2,"v":0.405},{"s":15,"g":3,"v":0.374},{"s":15,"g":4,"v":0.335},{"s":15,"g":5,"v":0.307},{"s":15,"g":6,"v":0.293},{"s":15,"g":7,"v":0.282},{"s":15,"g":8,"v":0.251},{"s":15,"g":9,"v":0.228},{"s":15,"g":10,"v":0.189},{"s":15,"g":11,"v":0.126},
{"s":16,"g":1,"v":0.27},{"s":16,"g":2,"v":0.279},{"s":16,"g":3,"v":0.278},{"s":16,"g":4,"v":0.28},{"s":16,"g":5,"v":0.262},{"s":16,"g":6,"v":0.258},{"s":16,"g":7,"v":0.266},{"s":16,"g":8,"v":0.251},{"s":16,"g":9,"v":0.228},{"s":16,"g":10,"v":0.2},{"s":16,"g":11,"v":0.172},
{"s":17,"g":1,"v":0.286},{"s":17,"g":2,"v":0.268},{"s":17,"g":3,"v":0.237},{"s":17,"g":4,"v":0.211},{"s":17,"g":5,"v":0.2},{"s":17,"g":6,"v":0.189},{"s":17,"g":7,"v":0.161},{"s":17,"g":8,"v":0.122},{"s":17,"g":9,"v":0.1},{"s":17,"g":10,"v":0.089},{"s":17,"g":11,"v":0.078},
{"s":18,"g":1,"v":0.102},{"s":18,"g":2,"v":0.122},{"s":18,"g":3,"v":0.136},{"s":18,"g":4,"v":0.17},{"s":18,"g":5,"v":0.185},{"s":18,"g":6,"v":0.189},{"s":18,"g":7,"v":0.183},{"s":18,"g":8,"v":0.22},{"s":18,"g":9,"v":0.251},{"s":18,"g":10,"v":0.259},{"s":18,"g":11,"v":0.276},
{"s":19,"g":1,"v":0.056},{"s":19,"g":2,"v":0.056},{"s":19,"g":3,"v":0.052},{"s":19,"g":4,"v":0.04},{"s":19,"g":5,"v":0.048},{"s":19,"g":6,"v":0.052},{"s":19,"g":7,"v":0.048},{"s":19,"g":8,"v":0.042},{"s":19,"g":9,"v":0.034},{"s":19,"g":10,"v":0.034},{"s":19,"g":11,"v":0.025}
]
},
"hconcat":[
{"title":{"text":"Family 1","frame":"group","offset":10},"width":180,"height":653,"data":{"name":"f1"},
"encoding":{"x":{"field":"g","type":"quantitative","scale":{"domain":[0.5,11.5],"nice":false,"zero":false},"axis":{"title":"Generation","values":[1.5,3,4.5,6,7.5,9,10.5],"labelExpr":"datum.value%3?'':datum.label","gridWidth":{"condition":{"test":"datum.value%3","value":0.8},"value":1.6},"tickOpacity":{"condition":{"test":"datum.value%3","value":0},"value":1}}},
"y":{"field":"v","type":"quantitative","scale":{"domain":[-0.047,1.051],"nice":false,"zero":false},"axis":{"title":"Allele frequency","values":[0,0.125,0.25,0.375,0.5,0.625,0.75,0.875,1],"format":".2f","labelExpr":"round(datum.value*8)%2?'':datum.label","gridWidth":{"condition":{"test":"round(datum.value*8)%2","value":0.8},"value":1.6},"tickOpacity":{"condition":{"test":"round(datum.value*8)%2","value":0},"value":1}}}},
"layer":[{"transform":[{"filter":"datum.s>0"}],"mark":{"type":"line","color":"#FF0000","strokeWidth":1},"encoding":{"detail":{"field":"s","type":"nominal"}}},{"transform":[{"filter":"datum.s==0"}],"mark":{"type":"line","color":"#00008B","strokeWidth":3}}]},
{"title":{"text":"Family 2","frame":"group","offset":10},"width":180,"height":653,"data":{"name":"f2"},
"encoding":{"x":{"field":"g","type":"quantitative","scale":{"domain":[0.5,11.5],"nice":false,"zero":false},"axis":{"title":"Generation","values":[1.5,3,4.5,6,7.5,9,10.5],"labelExpr":"datum.value%3?'':datum.label","gridWidth":{"condition":{"test":"datum.value%3","value":0.8},"value":1.6},"tickOpacity":{"condition":{"test":"datum.value%3","value":0},"value":1}}},
"y":{"field":"v","type":"quantitative","scale":{"domain":[-0.047,1.051],"nice":false,"zero":false},"axis":{"title":"Allele frequency","values":[0,0.125,0.25,0.375,0.5,0.625,0.75,0.875,1],"format":".2f","labelExpr":"round(datum.value*8)%2?'':datum.label","gridWidth":{"condition":{"test":"round(datum.value*8)%2","value":0.8},"value":1.6},"tickOpacity":{"condition":{"test":"round(datum.value*8)%2","value":0},"value":1}}}},
"layer":[{"transform":[{"filter":"datum.s>0"}],"mark":{"type":"line","color":"#FF0000","strokeWidth":1},"encoding":{"detail":{"field":"s","type":"nominal"}}},{"transform":[{"filter":"datum.s==0"}],"mark":{"type":"line","color":"#00008B","strokeWidth":3}}]},
{"title":{"text":"Family 3","frame":"group","offset":10},"width":180,"height":653,"data":{"name":"f3"},
"encoding":{"x":{"field":"g","type":"quantitative","scale":{"domain":[0.5,11.5],"nice":false,"zero":false},"axis":{"title":"Generation","values":[1.5,3,4.5,6,7.5,9,10.5],"labelExpr":"datum.value%3?'':datum.label","gridWidth":{"condition":{"test":"datum.value%3","value":0.8},"value":1.6},"tickOpacity":{"condition":{"test":"datum.value%3","value":0},"value":1}}},
"y":{"field":"v","type":"quantitative","scale":{"domain":[-0.047,1.051],"nice":false,"zero":false},"axis":{"title":"Allele frequency","values":[0,0.125,0.25,0.375,0.5,0.625,0.75,0.875,1],"format":".2f","labelExpr":"round(datum.value*8)%2?'':datum.label","gridWidth":{"condition":{"test":"round(datum.value*8)%2","value":0.8},"value":1.6},"tickOpacity":{"condition":{"test":"round(datum.value*8)%2","value":0},"value":1}}}},
"layer":[{"transform":[{"filter":"datum.s>0"}],"mark":{"type":"line","color":"#FF0000","strokeWidth":1},"encoding":{"detail":{"field":"s","type":"nominal"}}},{"transform":[{"filter":"datum.s==0"}],"mark":{"type":"line","color":"#00008B","strokeWidth":3}}]},
{"title":{"text":"Family 4","frame":"group","offset":10},"width":180,"height":653,"data":{"name":"f4"},
"encoding":{"x":{"field":"g","type":"quantitative","scale":{"domain":[0.5,11.5],"nice":false,"zero":false},"axis":{"title":"Generation","values":[1.5,3,4.5,6,7.5,9,10.5],"labelExpr":"datum.value%3?'':datum.label","gridWidth":{"condition":{"test":"datum.value%3","value":0.8},"value":1.6},"tickOpacity":{"condition":{"test":"datum.value%3","value":0},"value":1}}},
"y":{"field":"v","type":"quantitative","scale":{"domain":[-0.047,1.051],"nice":false,"zero":false},"axis":{"title":"Allele frequency","values":[0,0.125,0.25,0.375,0.5,0.625,0.75,0.875,1],"format":".2f","labelExpr":"round(datum.value*8)%2?'':datum.label","gridWidth":{"condition":{"test":"round(datum.value*8)%2","value":0.8},"value":1.6},"tickOpacity":{"condition":{"test":"round(datum.value*8)%2","value":0},"value":1}}}},
"layer":[{"transform":[{"filter":"datum.s>0"}],"mark":{"type":"line","color":"#FF0000","strokeWidth":1},"encoding":{"detail":{"field":"s","type":"nominal"}}},{"transform":[{"filter":"datum.s==0"}],"mark":{"type":"line","color":"#00008B","strokeWidth":3}}]},
{"title":{"text":"Family 5","frame":"group","offset":10},"width":180,"height":653,"data":{"name":"f5"},
"encoding":{"x":{"field":"g","type":"quantitative","scale":{"domain":[0.5,11.5],"nice":false,"zero":false},"axis":{"title":"Generation","values":[1.5,3,4.5,6,7.5,9,10.5],"labelExpr":"datum.value%3?'':datum.label","gridWidth":{"condition":{"test":"datum.value%3","value":0.8},"value":1.6},"tickOpacity":{"condition":{"test":"datum.value%3","value":0},"value":1}}},
"y":{"field":"v","type":"quantitative","scale":{"domain":[-0.047,1.051],"nice":false,"zero":false},"axis":{"title":"Allele frequency","values":[0,0.125,0.25,0.375,0.5,0.625,0.75,0.875,1],"format":".2f","labelExpr":"round(datum.value*8)%2?'':datum.label","gridWidth":{"condition":{"test":"round(datum.value*8)%2","value":0.8},"value":1.6},"tickOpacity":{"condition":{"test":"round(datum.value*8)%2","value":0},"value":1}}}},
"layer":[{"transform":[{"filter":"datum.s>0"}],"mark":{"type":"line","color":"#FF0000","strokeWidth":1},"encoding":{"detail":{"field":"s","type":"nominal"}}},{"transform":[{"filter":"datum.s==0"}],"mark":{"type":"line","color":"#00008B","strokeWidth":3}}]}
],
"config":{
"font":"Liberation Sans",
"view":{"fill":"#EBEBEB","stroke":null},
"axis":{"gridColor":"#FFFFFF","domain":false,"tickColor":"#333333","tickSize":4,"labelColor":"#4D4D4D","labelFontSize":12,"labelPadding":2,"labelOverlap":false,"labelFlush":false,"titleFontSize":13,"titleFontWeight":"normal","titleColor":"#000000","titlePadding":3},
"axisX":{"labelPadding":7,"titlePadding":8},
"title":{"fontSize":17,"fontWeight":"bold","color":"#000000"}
}
}
